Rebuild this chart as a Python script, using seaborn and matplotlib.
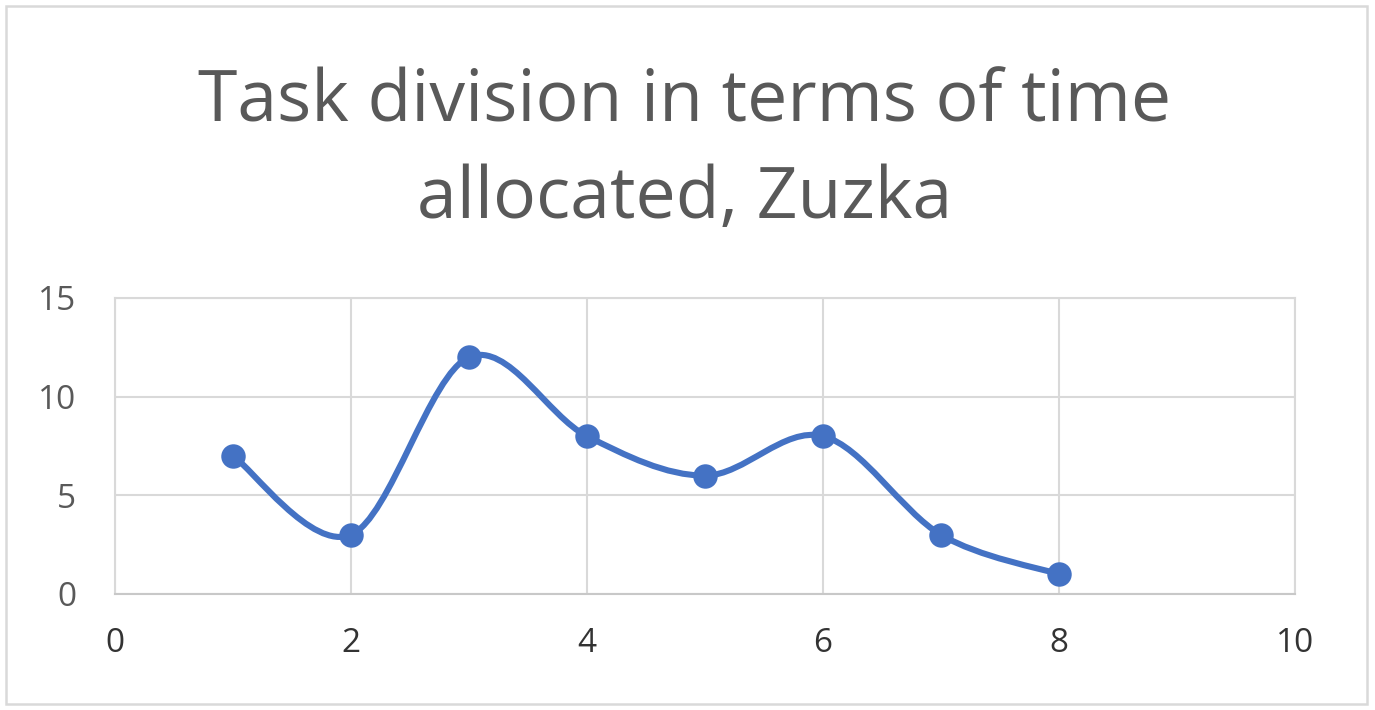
import numpy as np
import pandas as pd
import matplotlib
matplotlib.use("Agg")
import matplotlib.pyplot as plt
from matplotlib.path import Path
from matplotlib.patches import PathPatch, Rectangle
import seaborn as sns

# Chart data
task = [1, 2, 3, 4, 5, 6, 7, 8]
hours = [7, 3, 12, 8, 6, 8, 3, 1]
x_ticks = [0, 2, 4, 6, 8, 10]
y_ticks = [0, 5, 10, 15]
title = "Task division in terms of time\nallocated, Zuzka"

blue = "#4472C4"
grid_gray = "#D9D9D9"

sns.set_theme(style="white")
plt.rcParams['font.family'] = ['Open Sans', 'DejaVu Sans']

fig = plt.figure(figsize=(13.75, 7.10), dpi=100)
ax = fig.add_axes([115 / 1375, 1 - 594 / 710, 1180 / 1375, 296 / 710])

df = pd.DataFrame({"task": task, "hours": hours})


# Excel style smoothed line: cubic bezier segments through the points
def smooth_path(xs, ys):
    pts = np.column_stack([xs, ys]).astype(float)
    n = len(pts)
    verts = [pts[0]]
    codes = [Path.MOVETO]
    for i in range(n - 1):
        p0 = pts[i - 1] if i > 0 else pts[i]
        p1 = pts[i]
        p2 = pts[i + 1]
        p3 = pts[i + 2] if i + 2 < n else pts[i + 1]
        c1 = p1 + (p2 - p0) / 6
        c2 = p2 - (p3 - p1) / 6
        verts += [c1, c2, p2]
        codes += [Path.CURVE4] * 3
    return Path(verts, codes)


ax.add_patch(PathPatch(smooth_path(df["task"], df["hours"]), fill=False,
                       edgecolor=blue, lw=4.4, capstyle="round", zorder=3))
sns.scatterplot(data=df, x="task", y="hours", ax=ax, color=blue, s=310,
                edgecolor=blue, linewidth=0, zorder=4, legend=False)

ax.set_xlim(0, 10)
ax.set_ylim(0, 15)
ax.set_xticks(x_ticks)
ax.set_yticks(y_ticks)
ax.set_xlabel("")
ax.set_ylabel("")
ax.grid(True, color=grid_gray, lw=1.5)
for side in ["top", "right", "left", "bottom"]:
    ax.spines[side].set_color(grid_gray)
    ax.spines[side].set_linewidth(1.5)
ax.spines["bottom"].set_color("#C8C8C8")
ax.tick_params(axis="both", length=0)
ax.tick_params(axis="y", labelsize=24, labelcolor="#595959", pad=28)
ax.tick_params(axis="x", labelsize=24, labelcolor="#333333", pad=24)

fig.text(0.498, 1 - 151 / 710, title, ha="center", va="center", fontsize=51.5,
         color="#595959", linespacing=1.47)

# outer chart border
fig.patches.append(Rectangle((6 / 1375, 6 / 710), 1361 / 1375, 698 / 710,
                             transform=fig.transFigure, fill=False,
                             edgecolor=grid_gray, lw=1.8))

fig.savefig("out.png", dpi=100)
